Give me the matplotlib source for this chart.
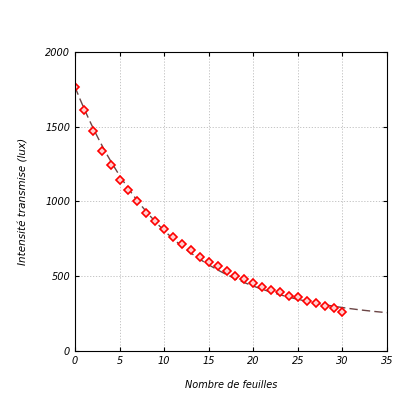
import numpy as np
import matplotlib.pyplot as plt

feuilles = list(range(0, 31))
intensite = [1766, 1612, 1472, 1338, 1244, 1144, 1077, 1003, 923, 870, 816,
             763, 716, 676, 629, 595, 569, 535, 502, 482, 455, 428, 408, 395,
             368, 361, 334, 321, 301, 288, 261]

# exponential fit parameters
fit_a = 1566
fit_k = 0.095
fit_c = 200

fig = plt.figure(figsize=(4, 4), dpi=100)
ax = fig.add_axes([0.1875, 0.1225, 0.78, 0.7475])

xf = np.linspace(0, 35, 200)
ax.plot(xf, fit_a * np.exp(-fit_k * xf) + fit_c, color='#6b4545', lw=1, dashes=(6, 3))
ax.plot(feuilles, intensite, 'D', ms=4, mfc='#ffd0d0', mec='red', mew=1.2)

ax.set_xlim(0, 35)
ax.set_ylim(0, 2000)
ax.set_xticks(range(0, 36, 5))
ax.set_yticks(range(0, 2001, 500))
ax.grid(True, color='#bbbbbb', ls=(0, (1.5, 2)), lw=0.6)
ax.tick_params(labelsize=7, direction='in', length=3, top=True, right=True)
for lab in ax.get_xticklabels() + ax.get_yticklabels():
    lab.set_fontstyle('italic')
ax.set_xlabel('Nombre de feuilles', fontsize=7, style='italic', labelpad=10)
ax.set_ylabel('Intensité transmise (lux)', fontsize=7.5, style='italic', labelpad=12)

fig.savefig('out.png')
